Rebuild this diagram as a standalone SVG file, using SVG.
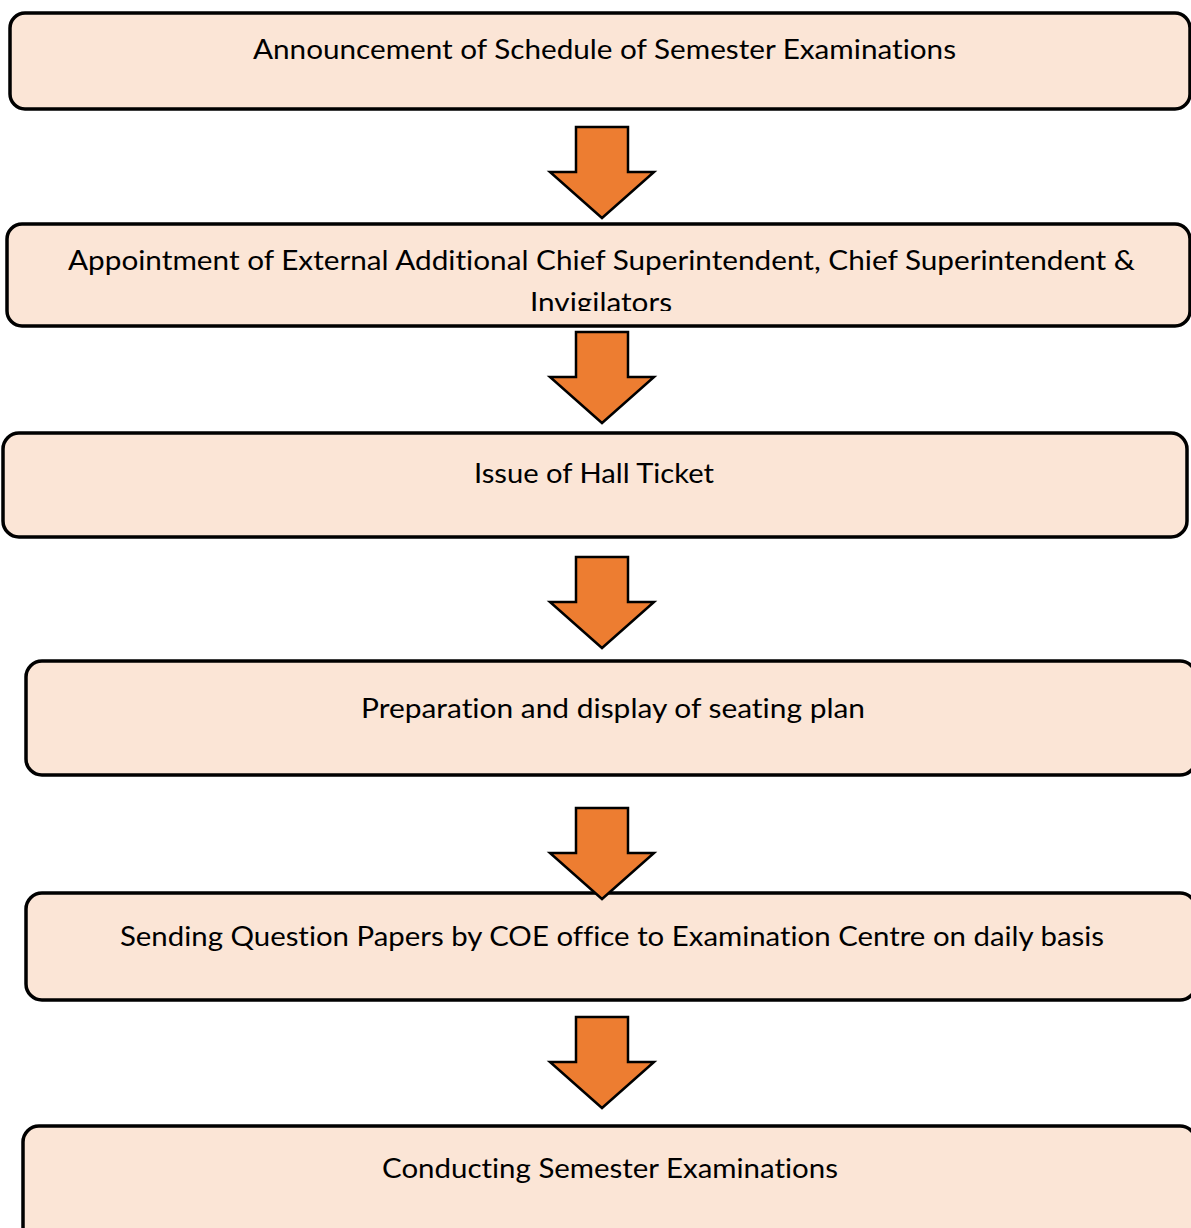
<svg xmlns="http://www.w3.org/2000/svg" width="1191" height="1228" viewBox="0 0 1191 1228">
  <style>
    .box { fill: #FBE5D6; stroke: #000; stroke-width: 3.5; }
    .arrow { fill: #ED7D31; stroke: #000; stroke-width: 2.5; stroke-linejoin: miter; }
    .label { font-family: Lato, "Open Sans", "Liberation Sans", sans-serif; font-size: 27px; fill: #000; font-variant-ligatures: none; }
  </style>
  <defs>
    <path id="down" d="M-26,0 H26 V45 H52 L0,91 L-52,45 H-26 Z"/>
    <clipPath id="clip2"><rect x="8" y="226" width="1183" height="85"/></clipPath>
  </defs>

  <g id="connectors">
    <use href="#down" class="arrow" transform="translate(602,127)"/>
    <use href="#down" class="arrow" transform="translate(602,332)"/>
    <use href="#down" class="arrow" transform="translate(602,557)"/>
    <use href="#down" class="arrow" transform="translate(602,1017)"/>
  </g>

  <g id="node-announcement">
    <rect class="box" x="10" y="13" width="1180" height="96" rx="15"/>
    <text class="label" x="253" y="59" textLength="703" lengthAdjust="spacingAndGlyphs">Announcement of Schedule of Semester Examinations</text>
  </g>

  <g id="node-appointment">
    <rect class="box" x="7" y="224" width="1183" height="102" rx="15"/>
    <text class="label" x="68" y="270" textLength="1067" lengthAdjust="spacingAndGlyphs">Appointment of External Additional Chief Superintendent, Chief Superintendent &amp;</text>
    <text class="label" x="530" y="312" textLength="142" lengthAdjust="spacingAndGlyphs" clip-path="url(#clip2)">Invigilators</text>
  </g>

  <g id="node-hallticket">
    <rect class="box" x="3" y="433" width="1184" height="104" rx="16"/>
    <text class="label" x="474" y="483" textLength="240" lengthAdjust="spacingAndGlyphs">Issue of Hall Ticket</text>
  </g>

  <g id="node-seating">
    <rect class="box" x="26" y="661" width="1170" height="114" rx="16"/>
    <text class="label" x="361" y="718" textLength="504" lengthAdjust="spacingAndGlyphs">Preparation and display of seating plan</text>
  </g>

  <g id="node-papers">
    <rect class="box" x="26" y="893" width="1170" height="107" rx="16"/>
    <text class="label" x="120" y="946" textLength="984" lengthAdjust="spacingAndGlyphs">Sending Question Papers by COE office to Examination Centre on daily basis</text>
  </g>

  <!-- this arrow sits over the top edge of the question-paper box -->
  <g id="connector-overlap">
    <use href="#down" class="arrow" transform="translate(602,808)"/>
  </g>

  <g id="node-conducting">
    <rect class="box" x="23" y="1126" width="1173" height="120" rx="16"/>
    <text class="label" x="382" y="1178" textLength="456" lengthAdjust="spacingAndGlyphs">Conducting Semester Examinations</text>
  </g>
</svg>
